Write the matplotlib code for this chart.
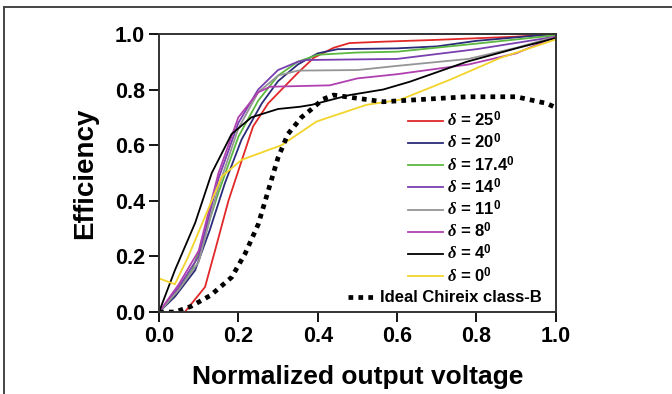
import matplotlib
matplotlib.use('Agg')
import matplotlib.pyplot as plt
from matplotlib.lines import Line2D

plt.rcParams['font.family'] = ['Liberation Sans', 'DejaVu Sans']
plt.rcParams['font.weight'] = 'bold'
plt.rcParams['mathtext.fontset'] = 'custom'
plt.rcParams['mathtext.rm'] = 'Liberation Sans:bold'
plt.rcParams['mathtext.bf'] = 'Liberation Sans:bold'
plt.rcParams['mathtext.it'] = 'Liberation Serif:italic'

# curves
x_25 = [0.065, 0.116, 0.141, 0.175, 0.212, 0.237, 0.275, 0.309, 0.35, 0.39, 0.44, 0.48, 0.565, 0.69, 0.9, 1.0]
y_25 = [0.0, 0.09, 0.22, 0.40, 0.56, 0.667, 0.75, 0.80, 0.86, 0.914, 0.95, 0.967, 0.972, 0.978, 0.99, 1.0]

x_20 = [0.0, 0.04, 0.091, 0.128, 0.166, 0.208, 0.259, 0.3, 0.35, 0.4, 0.45, 0.6, 0.7, 0.8, 1.0]
y_20 = [0.0, 0.055, 0.15, 0.295, 0.463, 0.62, 0.75, 0.83, 0.89, 0.93, 0.945, 0.948, 0.955, 0.975, 1.0]

x_174 = [0.0, 0.04, 0.083, 0.116, 0.15, 0.2, 0.25, 0.3, 0.35, 0.4, 0.5, 0.6, 0.8, 1.0]
y_174 = [0.0, 0.065, 0.15, 0.28, 0.43, 0.63, 0.76, 0.85, 0.9, 0.925, 0.933, 0.936, 0.965, 0.995]

x_14 = [0.0, 0.05, 0.1, 0.15, 0.2, 0.25, 0.3, 0.35, 0.37, 0.6, 0.8, 1.0]
y_14 = [0.0, 0.09, 0.2, 0.48, 0.68, 0.8, 0.87, 0.9, 0.906, 0.91, 0.945, 0.99]

x_11 = [0.0, 0.05, 0.1, 0.15, 0.2, 0.25, 0.3, 0.35, 0.5, 0.6, 0.78, 0.9, 1.0]
y_11 = [0.0, 0.08, 0.18, 0.45, 0.66, 0.79, 0.85, 0.868, 0.87, 0.885, 0.91, 0.95, 0.99]

x_8 = [0.0, 0.05, 0.1, 0.15, 0.2, 0.25, 0.28, 0.43, 0.5, 0.6, 0.78, 0.9, 1.0]
y_8 = [0.0, 0.1, 0.22, 0.5, 0.7, 0.79, 0.81, 0.815, 0.84, 0.855, 0.89, 0.93, 0.99]

x_4 = [0.0, 0.04, 0.091, 0.133, 0.183, 0.233, 0.3, 0.355, 0.385, 0.48, 0.565, 0.632, 0.776, 0.9, 1.0]
y_4 = [0.0, 0.15, 0.32, 0.50, 0.64, 0.70, 0.73, 0.738, 0.745, 0.78, 0.80, 0.828, 0.90, 0.948, 0.985]

x_0 = [0.0, 0.04, 0.074, 0.116, 0.158, 0.208, 0.309, 0.397, 0.523, 0.607, 0.733, 0.859, 1.0]
y_0 = [0.121, 0.10, 0.2, 0.343, 0.487, 0.547, 0.60, 0.685, 0.745, 0.763, 0.835, 0.913, 0.98]

x_ideal = [0.0, 0.04, 0.08, 0.13, 0.183, 0.217, 0.25, 0.275, 0.30, 0.325, 0.359, 0.385,
           0.413, 0.44, 0.565, 0.776, 0.9, 0.977, 1.0]
y_ideal = [0.0, 0.0, 0.02, 0.06, 0.125, 0.21, 0.315, 0.435, 0.555, 0.64, 0.70, 0.73,
           0.765, 0.78, 0.756, 0.774, 0.774, 0.75, 0.735]

angles = ['25', '20', '17.4', '14', '11', '8', '4', '0']
colors = ['#e02828', '#2b2b7a', '#5cb840', '#7a40b0', '#959595', '#b040b0', '#000000', '#f2d42a']
xs = [x_25, x_20, x_174, x_14, x_11, x_8, x_4, x_0]
ys = [y_25, y_20, y_174, y_14, y_11, y_8, y_4, y_0]

fig = plt.figure(figsize=(6.72, 3.94), dpi=100)
ax = fig.add_axes([0.2366, 0.208, 0.5905, 0.706])

handles = []
for xv, yv, c, a in zip(xs, ys, colors, angles):
    h, = ax.plot(xv, yv, color=c, lw=1.3, label=r'$\delta$ = ' + a + r'$^{0}$')
    handles.append(h)

ideal, = ax.plot(x_ideal, y_ideal, color='black', lw=3.4, linestyle=(0, (1, 1.1)),
                 dash_capstyle='butt', label='Ideal Chireix class-B')

ax.set_xlim(0, 1)
ax.set_ylim(0, 1)
ax.set_xticks([0, 0.2, 0.4, 0.6, 0.8, 1.0])
ax.set_yticks([0, 0.2, 0.4, 0.6, 0.8, 1.0])
ax.xaxis.set_major_formatter(matplotlib.ticker.FormatStrFormatter('%.1f'))
ax.yaxis.set_major_formatter(matplotlib.ticker.FormatStrFormatter('%.1f'))
ax.tick_params(direction='out', length=7, width=1.3, labelsize=15.5, pad=3)
for s in ax.spines.values():
    s.set_linewidth(1.4)
    s.set_color('#333333')

ax.set_xlabel('Normalized output voltage', fontsize=19, fontweight='bold', labelpad=13)
ax.set_ylabel('Efficiency', fontsize=20, fontweight='bold', labelpad=12)

leg1 = ax.legend(handles=handles, loc='upper left', bbox_to_anchor=(0.627, 0.725),
                 frameon=False, fontsize=12, handlelength=2.1, handletextpad=0.25,
                 labelspacing=0.18, borderpad=0, borderaxespad=0)
ax.add_artist(leg1)
ax.legend(handles=[ideal], loc='upper left', bbox_to_anchor=(0.476, 0.078),
          frameon=False, fontsize=12, handlelength=1.7, handletextpad=0.2,
          borderpad=0, borderaxespad=0)

# outer frame lines (top and left only)
fig.add_artist(Line2D([4 / 672, 1.0], [1 - 7 / 394, 1 - 7 / 394], color='#444444', lw=1.4,
                      transform=fig.transFigure))
fig.add_artist(Line2D([4 / 672, 4 / 672], [0.0, 1 - 7 / 394], color='#444444', lw=1.4,
                      transform=fig.transFigure))

fig.savefig('out.png', dpi=100)
